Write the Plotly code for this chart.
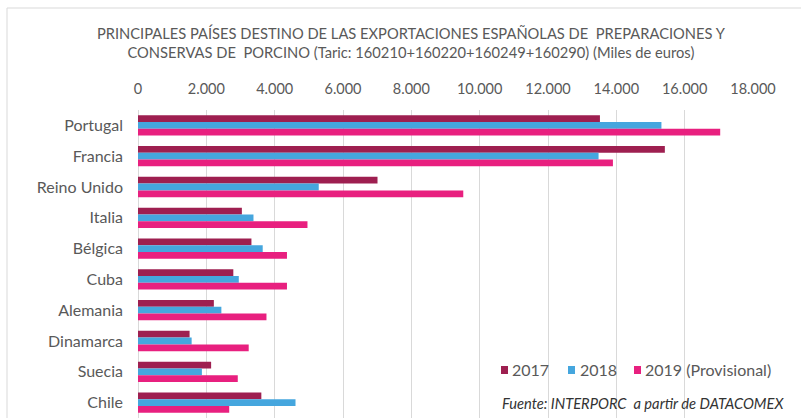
import plotly.graph_objects as go

# Export values (thousand euros) by destination country
paises = ["Portugal", "Francia", "Reino Unido", "Italia", "Bélgica",
          "Cuba", "Alemania", "Dinamarca", "Suecia", "Chile"]
v2017 = [13520, 15420, 7010, 3040, 3320, 2790, 2220, 1510, 2140, 3610]
v2018 = [15320, 13480, 5290, 3380, 3650, 2950, 2440, 1570, 1870, 4610]
v2019 = [17040, 13900, 9520, 4960, 4360, 4360, 3760, 3240, 2920, 2670]

tick_vals = [0, 2000, 4000, 6000, 8000, 10000, 12000, 14000, 16000, 18000]
tick_text = ["0", "2.000", "4.000", "6.000", "8.000", "10.000",
             "12.000", "14.000", "16.000", "18.000"]

series_names = ["2017", "2018", "2019 (Provisional)"]
series_vals = [v2017, v2018, v2019]
series_colors = ["#9E1F50", "#45A6DE", "#E8207F"]

FONT = "Lato"
GREY = "#595959"

W, H = 801, 418
ML, MR, MT, MB = 138, 48, 110, 0
PW, PH = W - ML - MR, H - MT - MB


def px_x(x):
    """pixel column -> paper x"""
    return (x - ML) / PW


def px_y(y):
    """pixel row -> paper y"""
    return (H - MB - y) / PH


fig = go.Figure()
for name, vals, color in zip(series_names, series_vals, series_colors):
    fig.add_trace(go.Bar(
        y=paises, x=vals, name=name, orientation="h",
        marker=dict(color=color, line=dict(width=0)),
    ))

fig.update_layout(
    width=W, height=H,
    margin=dict(l=ML, r=MR, t=MT, b=MB, autoexpand=False),
    paper_bgcolor="white", plot_bgcolor="white",
    barmode="group", bargap=0.34, bargroupgap=0,
    font=dict(family=FONT, color=GREY, size=14),
    title=dict(
        text="PRINCIPALES PAÍSES DESTINO DE LAS EXPORTACIONES ESPAÑOLAS DE  PREPARACIONES Y<br>"
             "CONSERVAS DE  PORCINO (Taric: 160210+160220+160249+160290) (Miles de euros)",
        x=0.513, xanchor="center", y=1 - 38.5 / H, yanchor="middle",
        font=dict(family=FONT, size=14.7, color=GREY),
    ),
    xaxis=dict(
        side="top", range=[0, 18000], tickvals=tick_vals, ticktext=tick_text,
        showgrid=True, gridcolor="#D9D9D9", gridwidth=1,
        zeroline=True, zerolinecolor="#D9D9D9", zerolinewidth=1,
        showline=False, ticks="", ticklabelstandoff=12,
        tickfont=dict(family=FONT, size=14.5, color=GREY),
        fixedrange=True,
    ),
    yaxis=dict(
        autorange="reversed", showgrid=False, zeroline=False, showline=False,
        ticks="", ticklabelstandoff=14,
        tickfont=dict(family=FONT, size=16, color=GREY),
        fixedrange=True,
    ),
    showlegend=False,
)

# white panel behind the source note, and the outer frame
fig.add_shape(type="rect", xref="paper", yref="paper",
              x0=px_x(482), x1=px_x(W + 5), y0=px_y(H + 5), y1=px_y(386),
              fillcolor="white", line=dict(width=0), layer="between")
fig.add_shape(type="rect", xref="paper", yref="paper",
              x0=px_x(7), x1=px_x(W + 20), y0=px_y(H + 20), y1=px_y(8),
              line=dict(color="#D9D9D9", width=1), fillcolor="rgba(0,0,0,0)",
              layer="above")

# legend: colour key + series name
key_left = [501, 568, 634]
label_left = [510, 578, 643]
for name, color, kx, lx in zip(series_names, series_colors, key_left, label_left):
    fig.add_shape(type="rect", xref="paper", yref="paper",
                  x0=px_x(kx), x1=px_x(kx + 7), y0=px_y(374), y1=px_y(366),
                  fillcolor=color, line=dict(width=0), layer="above")
    fig.add_annotation(
        text=name, xref="paper", yref="paper", x=px_x(lx), xanchor="left",
        y=px_y(369), yanchor="middle", showarrow=False,
        font=dict(family=FONT, size=16, color=GREY),
    )

fig.add_annotation(
    text="<i>Fuente: INTERPORC  a partir de DATACOMEX</i>",
    xref="paper", yref="paper", x=px_x(786), xanchor="right",
    y=px_y(403), yanchor="middle", showarrow=False,
    font=dict(family=FONT, size=14.7, color="#333333"),
)

fig.write_html("out.html")
